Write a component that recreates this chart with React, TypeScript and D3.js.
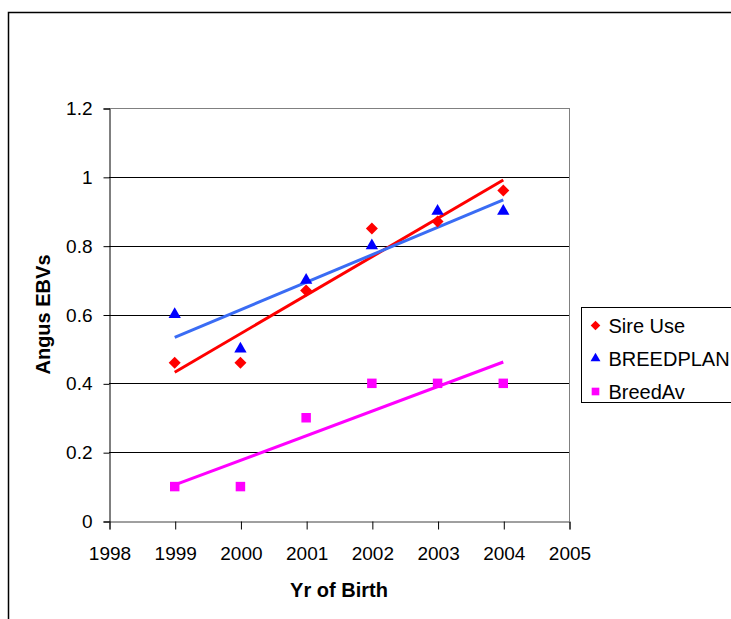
import { useEffect, useRef } from "react";
import * as d3 from "d3";

const years = [1999, 2000, 2001, 2002, 2003, 2004];
const sireUse = [0.46, 0.46, 0.67, 0.85, 0.87, 0.96];
const breedplan = [0.6, 0.5, 0.7, 0.8, 0.9, 0.9];
const breedAv = [0.1, 0.1, 0.3, 0.4, 0.4, 0.4];
const xTicks = [1998, 1999, 2000, 2001, 2002, 2003, 2004, 2005];
const yTicks = [0, 0.2, 0.4, 0.6, 0.8, 1, 1.2];

const series = [
    { name: "Sire Use", values: sireUse, color: "#FF0000", trend: "#FF0000", shape: d3.symbolSquare, rot: 45, size: 72 },
    { name: "BREEDPLAN", values: breedplan, color: "#0000FF", trend: "#3A6CF4", shape: d3.symbolTriangle, rot: 0, size: 66 },
    { name: "BreedAv", values: breedAv, color: "#FF00FF", trend: "#FF00FF", shape: d3.symbolSquare, rot: 0, size: 90 },
];

// least squares fit, like the Excel trendline
const fit = (xs: number[], ys: number[]) => {
    const mx = d3.mean(xs)!;
    const my = d3.mean(ys)!;
    let sxy = 0, sxx = 0;
    xs.forEach((x, i) => { sxy += (x - mx) * (ys[i] - my); sxx += (x - mx) * (x - mx); });
    const b = sxy / sxx;
    return (x: number) => my + b * (x - mx);
};

export default function App() {
    const svgRef = useRef<SVGSVGElement | null>(null);
    const W = 731, H = 619;
    const left = 109, right = 569, top = 108, bottom = 521;

    useEffect(() => {
        const svg = d3.select(svgRef.current);
        svg.selectAll("*").remove();
        const font = "'Liberation Sans', Arial, sans-serif";

        const x = d3.scaleLinear().domain([1998, 2005]).range([left, right]);
        const y = d3.scaleLinear().domain([0, 1.2]).range([bottom, top]);

        // outer chart border
        svg.append("rect")
            .attr("x", 8.5).attr("y", 12.5)
            .attr("width", 800).attr("height", 700)
            .attr("fill", "white").attr("stroke", "black").attr("stroke-width", 1.5);

        // gridlines
        svg.append("g").selectAll("line").data(yTicks.filter(t => t > 0)).join("line")
            .attr("x1", left).attr("x2", right)
            .attr("y1", d => Math.round(y(d)) + 0.5).attr("y2", d => Math.round(y(d)) + 0.5)
            .attr("stroke", d => (d === 1.2 ? "#808080" : "#000")).attr("stroke-width", 1);
        // right border of plot
        svg.append("line")
            .attr("x1", right + 0.5).attr("x2", right + 0.5)
            .attr("y1", top).attr("y2", bottom)
            .attr("stroke", "#808080");

        // y axis
        const yAxis = svg.append("g")
            .attr("transform", `translate(${left + 0.5},0.5)`)
            .call(d3.axisLeft(y).tickValues(yTicks).tickSize(6).tickPadding(11)
                .tickFormat(d => String(d)));
        yAxis.select(".domain").attr("stroke", "#000");
        yAxis.selectAll("text").style("font-family", font).style("font-size", "19px").attr("fill", "#000");

        // x axis
        const xAxis = svg.append("g")
            .attr("transform", `translate(0.5,${bottom + 0.5})`)
            .call(d3.axisBottom(x).tickValues(xTicks).tickSize(8).tickPadding(17)
                .tickFormat(d => String(d)));
        xAxis.select(".domain").attr("stroke", "#404040");
        xAxis.selectAll("text").style("font-family", font).style("font-size", "19px").attr("fill", "#000");

        // trendlines
        series.forEach(s => {
            const f = fit(years, s.values);
            const x0 = years[0], x1 = years[years.length - 1];
            svg.append("line")
                .attr("x1", x(x0)).attr("y1", y(f(x0)))
                .attr("x2", x(x1)).attr("y2", y(f(x1)))
                .attr("stroke", s.trend).attr("stroke-width", 3);
        });

        // markers
        series.forEach(s => {
            svg.append("g").selectAll("path").data(s.values).join("path")
                .attr("transform", (d, i) => `translate(${x(years[i])},${y(d)}) rotate(${s.rot})`)
                .attr("d", d3.symbol().type(s.shape).size(s.size)())
                .attr("fill", s.color);
        });

        // axis titles
        svg.append("text")
            .attr("x", (left + right) / 2).attr("y", 597)
            .attr("text-anchor", "middle")
            .style("font-family", font).style("font-size", "20px").style("font-weight", "bold")
            .text("Yr of Birth");
        svg.append("text")
            .attr("transform", `translate(50,${(top + bottom) / 2}) rotate(-90)`)
            .attr("text-anchor", "middle")
            .style("font-family", font).style("font-size", "20px").style("font-weight", "bold")
            .text("Angus EBVs");

        // legend
        const lg = svg.append("g").attr("transform", "translate(581.5,307.5)");
        lg.append("rect")
            .attr("width", 200).attr("height", 95)
            .attr("fill", "white").attr("stroke", "#000").attr("stroke-width", 1);
        series.forEach((s, i) => {
            const cy = 18 + i * 33;
            lg.append("path")
                .attr("transform", `translate(14,${cy}) rotate(${s.rot})`)
                .attr("d", d3.symbol().type(s.shape).size(s.size * 0.65)())
                .attr("fill", s.color);
            lg.append("text")
                .attr("x", 27).attr("y", cy).attr("dy", "0.35em")
                .style("font-family", font).style("font-size", "20px")
                .text(s.name);
        });
    }, []);

    return (
        <svg ref={svgRef} width={W} height={H}
            style={{ position: "absolute", left: 0, top: 0, background: "white" }} />
    );
}
